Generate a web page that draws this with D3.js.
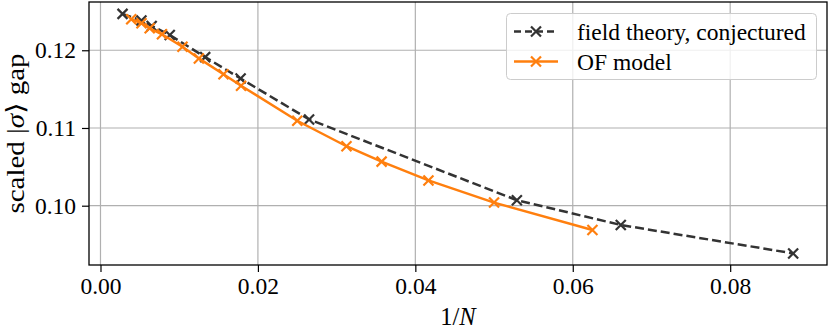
<!DOCTYPE html>
<meta charset="utf-8">
<style>
    body { margin: 0; background: #fff; }
    text { font-family: "Liberation Serif", "DejaVu Serif", serif; fill: #000; }
    .grid line { stroke: #b0b0b0; stroke-width: 1.2; }
</style>
<svg width="830" height="330"></svg>
<script src="https://d3js.org/d3.v7.min.js"></script>
<script>

    // field theory, conjectured
    var ft_x = [0.0028, 0.0052, 0.0065, 0.0088, 0.0133, 0.0178, 0.0265, 0.0529, 0.0661, 0.0880];
    var ft_y = [0.12468, 0.12382, 0.12313, 0.12197, 0.11912, 0.11636, 0.11110, 0.10071, 0.09752, 0.09386];

    // OF model, x = 1/N
    var of_N = [256, 192, 160, 128, 96, 80, 64, 56, 40, 32, 28, 24, 20, 16];
    var of_y = [0.12400, 0.12348, 0.12283, 0.12206, 0.12045, 0.11895, 0.11692, 0.11543, 0.11093, 0.10765, 0.10567, 0.10325, 0.10040, 0.09687];

    var x_ticks = [0.00, 0.02, 0.04, 0.06, 0.08];
    var y_ticks = [0.10, 0.11, 0.12];

    var fs = 23.5;

    var svg = d3.select("svg"),
        margin = {left: 89, right: 3, top: 2, bottom: 65},
        width = +svg.attr("width"),
        height = +svg.attr("height");

    var x = d3.scaleLinear()
        .domain([-0.00146, 0.0923])
        .range([margin.left, width - margin.right]);

    var y = d3.scaleLinear()
        .domain([0.09237, 0.12621])
        .range([height - margin.bottom, margin.top]);

    var ft = ft_x.map(function (d, i) { return [d, ft_y[i]]; });
    var of = of_N.map(function (d, i) { return [1 / d, of_y[i]]; });

    // grid
    var grid = svg.append("g").attr("class", "grid");
    grid.selectAll(".gx")
        .data(x_ticks)
        .enter().append("line")
        .attr("x1", function (d) { return x(d); })
        .attr("x2", function (d) { return x(d); })
        .attr("y1", y.range()[0])
        .attr("y2", y.range()[1]);
    grid.selectAll(".gy")
        .data(y_ticks)
        .enter().append("line")
        .attr("x1", x.range()[0])
        .attr("x2", x.range()[1])
        .attr("y1", function (d) { return y(d); })
        .attr("y2", function (d) { return y(d); });

    var line = d3.line()
        .x(function (d) { return x(d[0]); })
        .y(function (d) { return y(d[1]); });

    function drawSeries(data, color, dash) {
        var g = svg.append("g");
        g.append("path")
            .datum(data)
            .attr("d", line)
            .attr("fill", "none")
            .attr("stroke", color)
            .attr("stroke-width", 2.5)
            .attr("stroke-dasharray", dash);
        g.selectAll(".m")
            .data(data)
            .enter().append("path")
            .attr("d", function (d) {
                var cx = x(d[0]), cy = y(d[1]), s = 5;
                return "M" + (cx - s) + "," + (cy - s) + "L" + (cx + s) + "," + (cy + s) +
                    "M" + (cx - s) + "," + (cy + s) + "L" + (cx + s) + "," + (cy - s);
            })
            .attr("stroke", color)
            .attr("stroke-width", 2.2);
    }

    drawSeries(ft, "#333333", "9,4");
    drawSeries(of, "#ff7f0e", null);

    // axes
    var xAxis = svg.append("g")
        .attr("transform", "translate(0," + y.range()[0] + ")")
        .call(d3.axisBottom(x)
            .tickValues(x_ticks)
            .tickSize(7)
            .tickPadding(5)
            .tickFormat(d3.format(".2f")));
    var yAxis = svg.append("g")
        .attr("transform", "translate(" + x.range()[0] + ",0)")
        .call(d3.axisLeft(y)
            .tickValues(y_ticks)
            .tickSize(7)
            .tickPadding(6)
            .tickFormat(d3.format(".2f")));
    [xAxis, yAxis].forEach(function (a) {
        a.select(".domain").remove();
        a.selectAll("line").attr("stroke", "#000").attr("stroke-width", 1.2);
        a.selectAll("text")
            .attr("font-family", "Liberation Serif")
            .attr("font-size", fs)
            .attr("fill", "#000");
    });

    // frame
    svg.append("rect")
        .attr("x", x.range()[0])
        .attr("y", y.range()[1])
        .attr("width", x.range()[1] - x.range()[0])
        .attr("height", y.range()[0] - y.range()[1])
        .attr("fill", "none")
        .attr("stroke", "#000")
        .attr("stroke-width", 1.3);

    // axis labels
    var xl = svg.append("text")
        .attr("x", (x.range()[0] + x.range()[1]) / 2)
        .attr("y", 325)
        .attr("text-anchor", "middle")
        .attr("font-size", 24.5);
    xl.append("tspan").text("1/");
    xl.append("tspan").attr("font-style", "italic").text("N");

    var yl = svg.append("text")
        .attr("transform", "translate(24," + ((y.range()[0] + y.range()[1]) / 2) + ") rotate(-90)")
        .attr("text-anchor", "middle")
        .attr("font-size", 25)
        .attr("textLength", 160)
        .attr("lengthAdjust", "spacingAndGlyphs");
    yl.append("tspan").text("scaled |");
    yl.append("tspan").attr("font-style", "italic").text("σ");
    yl.append("tspan").text("⟩ gap");

    // legend
    var legend = svg.append("g");
    legend.append("rect")
        .attr("x", 506.5)
        .attr("y", 13.5)
        .attr("width", 310)
        .attr("height", 66)
        .attr("rx", 4)
        .attr("fill", "#fff")
        .attr("fill-opacity", 0.8)
        .attr("stroke", "#cccccc");

    var items = [
        {label: "field theory, conjectured", color: "#333333", dash: "9,4", cy: 31.5},
        {label: "OF model", color: "#ff7f0e", dash: null, cy: 61.5}
    ];
    items.forEach(function (it) {
        legend.append("line")
            .attr("x1", 514).attr("x2", 558)
            .attr("y1", it.cy).attr("y2", it.cy)
            .attr("stroke", it.color)
            .attr("stroke-width", 2.5)
            .attr("stroke-dasharray", it.dash ? "7,4" : null);
        legend.append("path")
            .attr("d", "M531," + (it.cy - 5) + "L541," + (it.cy + 5) + "M531," + (it.cy + 5) + "L541," + (it.cy - 5))
            .attr("stroke", it.color)
            .attr("stroke-width", 2.2);
        legend.append("text")
            .attr("x", 577)
            .attr("y", it.cy + 8)
            .attr("font-size", fs)
            .text(it.label);
    });

</script>
